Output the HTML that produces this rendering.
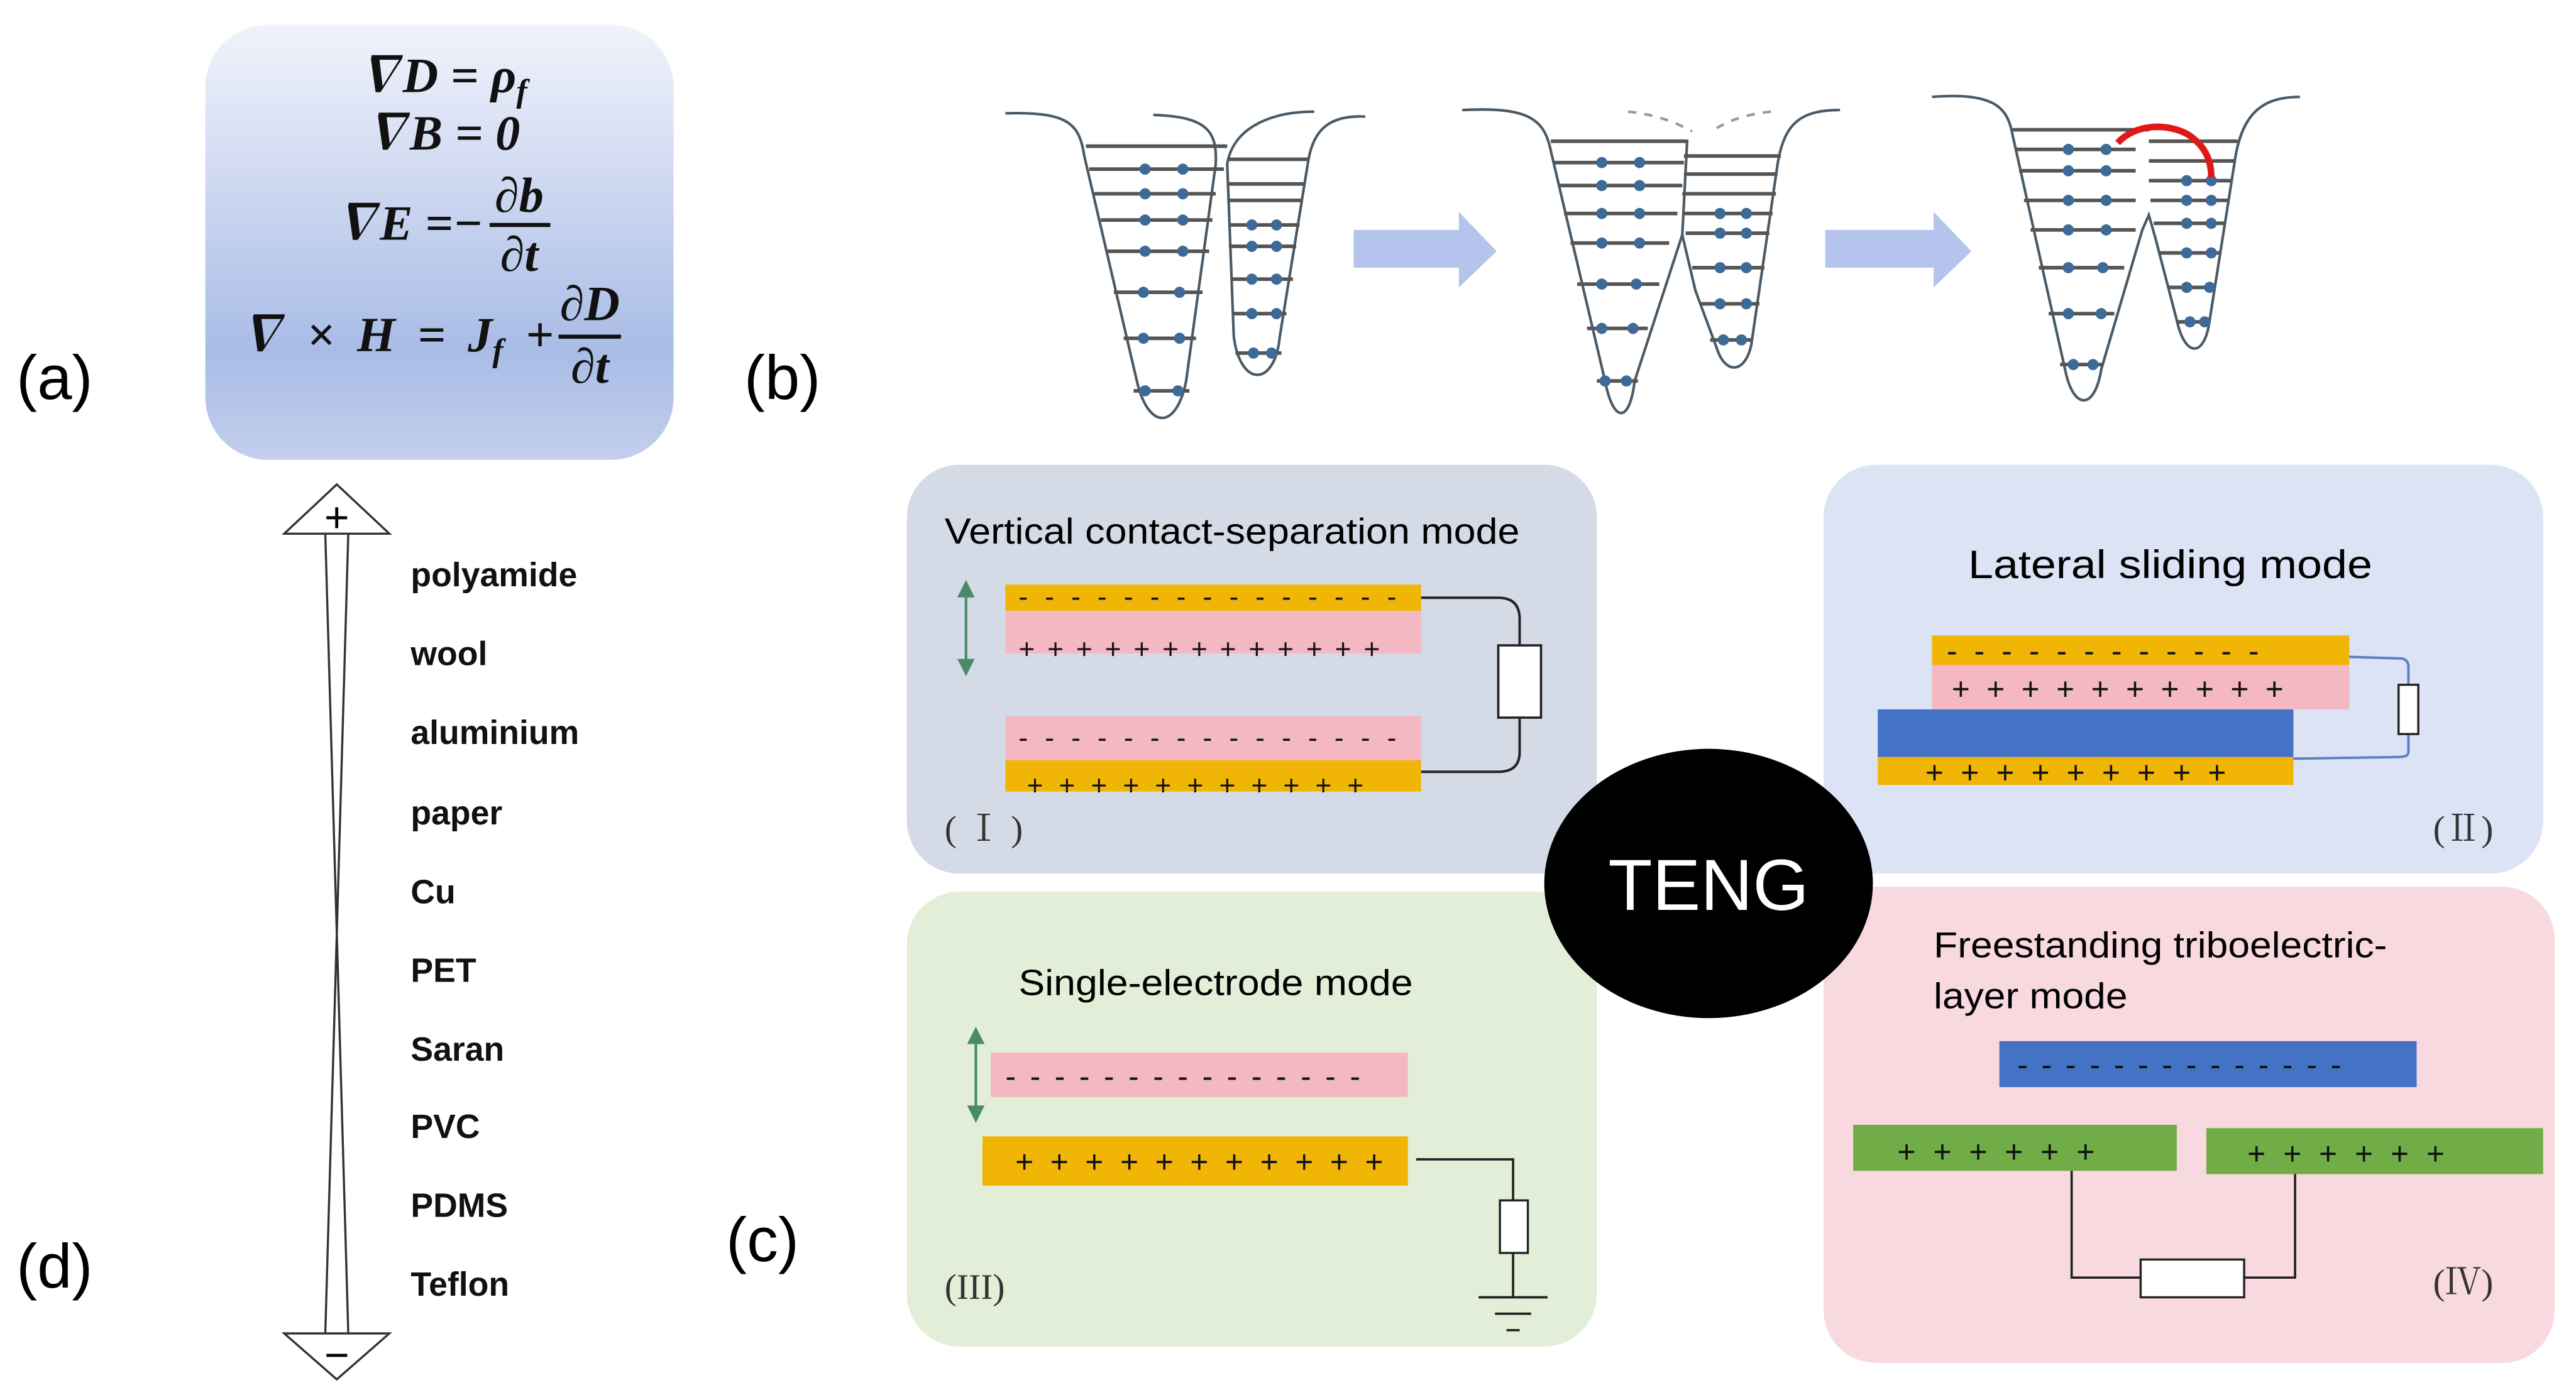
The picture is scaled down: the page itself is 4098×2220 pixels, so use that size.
<!DOCTYPE html>
<html><head><meta charset="utf-8"><style>
html,body{margin:0;padding:0;background:#fff;}
svg{display:block;}
.sans{font-family:"Liberation Sans",sans-serif;}
.ser{font-family:"Liberation Serif","Noto Serif CJK SC",serif;}
.lvl{stroke:#555;stroke-width:2.2;}
.w{fill:none;stroke:#4a5a66;stroke-width:1.6;}
</style></head><body>
<svg width="4098" height="2220" viewBox="0 0 1568 849.5" preserveAspectRatio="none" xmlns="http://www.w3.org/2000/svg">
<defs>
<linearGradient id="g1" x1="0" y1="0" x2="0" y2="1">
<stop offset="0" stop-color="#f1f3fb"/><stop offset="0.75" stop-color="#a9bce6"/><stop offset="1" stop-color="#c3cfec"/>
</linearGradient>
<g id="dot"><circle r="3.4" fill="#3d6a96"/></g>
</defs>
<rect width="1568" height="849.5" fill="#fff"/>

<text x="10" y="243" class="sans" font-size="38">(a)</text>
<text x="453" y="243" class="sans" font-size="38">(b)</text>
<text x="442" y="768" class="sans" font-size="38">(c)</text>
<text x="10" y="784" class="sans" font-size="38">(d)</text>

<rect x="125" y="15" width="285" height="265" rx="38" fill="url(#g1)"/>
<g class="ser" font-weight="bold" font-style="italic" font-size="30" fill="#111">
<text x="268" y="56" text-anchor="middle">∇D = ρ<tspan font-size="20" dy="6">f</tspan></text>
<text x="268" y="91" text-anchor="middle">∇B = 0</text>
<text x="294" y="146" text-anchor="end">∇E =−</text>
<text x="316" y="129" text-anchor="middle">∂b</text>
<line x1="298" y1="137" x2="335" y2="137" stroke="#111" stroke-width="2.5"/>
<text x="316" y="165" text-anchor="middle">∂t</text>
<text x="337" y="214" text-anchor="end" word-spacing="6">∇ × H = J<tspan font-size="20" dy="6">f</tspan><tspan dy="-6"> +</tspan></text>
<text x="359" y="195" text-anchor="middle">∂D</text>
<line x1="340" y1="205" x2="378" y2="205" stroke="#111" stroke-width="2.5"/>
<text x="359" y="233" text-anchor="middle">∂t</text>
</g>

<g fill="#fff" stroke="#333" stroke-width="1.3">
<polygon points="205,295 173,325 237,325"/>
<polygon points="205,840 173,812 237,812"/>
</g>
<line x1="198" y1="325" x2="212" y2="812" stroke="#333" stroke-width="1.3"/>
<line x1="212" y1="325" x2="198" y2="812" stroke="#333" stroke-width="1.3"/>
<text x="205" y="324" class="sans" font-size="26" text-anchor="middle">+</text>
<text x="205" y="834" class="sans" font-size="26" text-anchor="middle">−</text>
<g class="sans" font-weight="bold" font-size="20.5" fill="#111">
<text x="250" y="357">polyamide</text>
<text x="250" y="405">wool</text>
<text x="250" y="453">aluminium</text>
<text x="250" y="502">paper</text>
<text x="250" y="550">Cu</text>
<text x="250" y="598">PET</text>
<text x="250" y="646">Saran</text>
<text x="250" y="693">PVC</text>
<text x="250" y="741">PDMS</text>
<text x="250" y="789">Teflon</text>
</g>

<!-- diagram 1 -->
<path class="w" d="M612,69 C650,68 657,75 660,95 L692,232 C699,262 716,262 722,232 L740,100 C741,80 735,71 702,70"/>
<path class="w" d="M800,68 C770,68 750,80 747,100 L751,205 C755,236 776,236 779,205 L796,100 C799,78 810,70 831,71"/>
<g class="lvl">
<line x1="661" y1="89" x2="747" y2="89"/>
<line x1="663" y1="103" x2="745" y2="103"/><line x1="666" y1="118" x2="740" y2="118"/>
<line x1="670" y1="134" x2="738" y2="134"/><line x1="673" y1="153" x2="736" y2="153"/>
<line x1="678" y1="178" x2="732" y2="178"/><line x1="684" y1="206" x2="728" y2="206"/>
<line x1="690" y1="238" x2="724" y2="238"/>
<line x1="747" y1="97" x2="796" y2="97"/><line x1="747" y1="112" x2="794" y2="112"/>
<line x1="748" y1="122" x2="793" y2="122"/><line x1="748" y1="137" x2="791" y2="137"/>
<line x1="748" y1="150" x2="789" y2="150"/><line x1="749" y1="170" x2="787" y2="170"/>
<line x1="750" y1="191" x2="783" y2="191"/><line x1="752" y1="215" x2="780" y2="215"/>
</g>
<g>
<use href="#dot" x="697" y="103"/><use href="#dot" x="720" y="103"/>
<use href="#dot" x="697" y="118"/><use href="#dot" x="720" y="118"/>
<use href="#dot" x="697" y="134"/><use href="#dot" x="720" y="134"/>
<use href="#dot" x="697" y="153"/><use href="#dot" x="720" y="153"/>
<use href="#dot" x="696" y="178"/><use href="#dot" x="718" y="178"/>
<use href="#dot" x="696" y="206"/><use href="#dot" x="718" y="206"/>
<use href="#dot" x="697" y="238"/><use href="#dot" x="717" y="238"/>
<use href="#dot" x="762" y="137"/><use href="#dot" x="777" y="137"/>
<use href="#dot" x="762" y="150"/><use href="#dot" x="777" y="150"/>
<use href="#dot" x="762" y="170"/><use href="#dot" x="777" y="170"/>
<use href="#dot" x="762" y="191"/><use href="#dot" x="777" y="191"/>
<use href="#dot" x="763" y="215"/><use href="#dot" x="774" y="215"/>
</g>
<polygon points="824,140 888,140 888,129 911,153 888,175 888,163 824,163" fill="#b4c4ec"/>
<!-- diagram 2 -->
<path class="w" d="M890,67 C930,65 940,72 944,92 L977,232 C982,258 992,258 995,232 L1024,143 L1027,85"/>
<path class="w" d="M1024,143 L1032,177 L1045,212 C1050,228 1062,228 1066,210 L1082,100 C1086,75 1096,67 1120,67"/>
<path d="M991,68 Q1012,70 1030,80 M1078,68 Q1058,70 1045,78" fill="none" stroke="#999" stroke-width="1.6" stroke-dasharray="5,5"/>
<g class="lvl">
<line x1="944" y1="86" x2="1027" y2="86"/>
<line x1="946" y1="99" x2="1025" y2="99"/><line x1="949" y1="113" x2="1024" y2="113"/>
<line x1="952" y1="130" x2="1021" y2="130"/><line x1="956" y1="148" x2="1016" y2="148"/>
<line x1="960" y1="173" x2="1010" y2="173"/><line x1="966" y1="200" x2="1003" y2="200"/>
<line x1="972" y1="232" x2="997" y2="232"/>
<line x1="1025" y1="95" x2="1084" y2="95"/><line x1="1025" y1="106" x2="1082" y2="106"/>
<line x1="1024" y1="118" x2="1081" y2="118"/><line x1="1024" y1="130" x2="1079" y2="130"/>
<line x1="1026" y1="142" x2="1077" y2="142"/><line x1="1030" y1="163" x2="1074" y2="163"/>
<line x1="1035" y1="185" x2="1071" y2="185"/><line x1="1041" y1="207" x2="1067" y2="207"/>
</g>
<g>
<use href="#dot" x="975" y="99"/><use href="#dot" x="998" y="99"/>
<use href="#dot" x="975" y="113"/><use href="#dot" x="998" y="113"/>
<use href="#dot" x="975" y="130"/><use href="#dot" x="998" y="130"/>
<use href="#dot" x="975" y="148"/><use href="#dot" x="998" y="148"/>
<use href="#dot" x="975" y="173"/><use href="#dot" x="996" y="173"/>
<use href="#dot" x="975" y="200"/><use href="#dot" x="994" y="200"/>
<use href="#dot" x="977" y="232"/><use href="#dot" x="990" y="232"/>
<use href="#dot" x="1047" y="130"/><use href="#dot" x="1063" y="130"/>
<use href="#dot" x="1047" y="142"/><use href="#dot" x="1063" y="142"/>
<use href="#dot" x="1047" y="163"/><use href="#dot" x="1063" y="163"/>
<use href="#dot" x="1047" y="185"/><use href="#dot" x="1063" y="185"/>
<use href="#dot" x="1049" y="207"/><use href="#dot" x="1060" y="207"/>
</g>
<polygon points="1111,140 1177,140 1177,129 1200,153 1177,175 1177,163 1111,163" fill="#b4c4ec"/>
<!-- diagram 3 -->
<path class="w" d="M1176,59 C1215,56 1222,66 1225,82 L1257,225 C1262,250 1275,250 1279,225 L1304,140 L1308,131 L1312,145 L1325,195 C1330,218 1342,218 1345,195 L1360,100 C1364,70 1376,59 1400,59"/>
<g class="lvl">
<line x1="1225" y1="79" x2="1308" y2="79"/>
<line x1="1227" y1="91" x2="1300" y2="91"/><line x1="1229" y1="104" x2="1300" y2="104"/>
<line x1="1232" y1="122" x2="1300" y2="122"/><line x1="1236" y1="140" x2="1300" y2="140"/>
<line x1="1241" y1="163" x2="1293" y2="163"/><line x1="1247" y1="191" x2="1287" y2="191"/>
<line x1="1254" y1="222" x2="1280" y2="222"/>
<line x1="1308" y1="86" x2="1362" y2="86"/><line x1="1308" y1="98" x2="1360" y2="98"/>
<line x1="1308" y1="110" x2="1358" y2="110"/><line x1="1309" y1="122" x2="1356" y2="122"/>
<line x1="1311" y1="136" x2="1354" y2="136"/><line x1="1315" y1="154" x2="1351" y2="154"/>
<line x1="1320" y1="175" x2="1348" y2="175"/><line x1="1325" y1="196" x2="1345" y2="196"/>
</g>
<g>
<use href="#dot" x="1259" y="91"/><use href="#dot" x="1282" y="91"/>
<use href="#dot" x="1259" y="104"/><use href="#dot" x="1282" y="104"/>
<use href="#dot" x="1259" y="122"/><use href="#dot" x="1282" y="122"/>
<use href="#dot" x="1259" y="140"/><use href="#dot" x="1282" y="140"/>
<use href="#dot" x="1259" y="163"/><use href="#dot" x="1280" y="163"/>
<use href="#dot" x="1259" y="191"/><use href="#dot" x="1279" y="191"/>
<use href="#dot" x="1262" y="222"/><use href="#dot" x="1274" y="222"/>
<use href="#dot" x="1331" y="110"/><use href="#dot" x="1346" y="110"/>
<use href="#dot" x="1331" y="122"/><use href="#dot" x="1346" y="122"/>
<use href="#dot" x="1331" y="136"/><use href="#dot" x="1346" y="136"/>
<use href="#dot" x="1331" y="154"/><use href="#dot" x="1346" y="154"/>
<use href="#dot" x="1331" y="175"/><use href="#dot" x="1345" y="175"/>
<use href="#dot" x="1333" y="196"/><use href="#dot" x="1342" y="196"/>
</g>
<path d="M1289,87 C1300,75 1320,75 1332,82 C1344,90 1346,100 1346,108" fill="none" stroke="#e01818" stroke-width="4"/>

<!-- panels -->
<rect x="552" y="283" width="420" height="249" rx="32" fill="#d5dbe6"/>
<rect x="1110" y="283" width="438" height="249" rx="32" fill="#dbe3f4"/>
<rect x="552" y="543" width="420" height="277" rx="32" fill="#e2eed8"/>
<rect x="1110" y="540" width="445" height="290" rx="32" fill="#f7d9df"/>

<text x="575" y="331" class="sans" font-size="22" textLength="350" lengthAdjust="spacingAndGlyphs">Vertical contact-separation mode</text>
<rect x="612" y="356" width="253" height="16" fill="#f1b505"/>
<rect x="612" y="372" width="253" height="26" fill="#f4b8c2"/>
<rect x="612" y="436" width="253" height="27" fill="#f4b8c2"/>
<rect x="612" y="463" width="253" height="19" fill="#f1b505"/>
<g class="sans" font-size="17" fill="#111">
<text x="620" y="369" textLength="230" lengthAdjust="spacing">- - - - - - - - - - - - - - -</text>
<text x="620" y="401" textLength="220" lengthAdjust="spacing">+++++++++++++</text>
<text x="620" y="455" textLength="230" lengthAdjust="spacing">- - - - - - - - - - - - - - -</text>
<text x="625" y="484" textLength="205" lengthAdjust="spacing">+++++++++++</text>
</g>
<path d="M865,364 L912,364 Q925,364 925,377 L925,393 M925,437 L925,458 Q925,470 912,470 L865,470" fill="none" stroke="#222" stroke-width="1.5"/>
<rect x="912" y="393" width="26" height="44" fill="#fff" stroke="#222" stroke-width="1.4"/>
<g stroke="#4a8a6a" stroke-width="1.6" fill="#4a8a6a">
<line x1="588" y1="360" x2="588" y2="405"/>
<polygon points="588,355 584,363 592,363"/><polygon points="588,410 584,402 592,402"/>
</g>
<text x="575" y="512" class="ser" font-size="22" fill="#333">( Ⅰ )</text>

<text x="1198" y="352" class="sans" font-size="24" textLength="246" lengthAdjust="spacingAndGlyphs">Lateral sliding  mode</text>
<rect x="1176" y="387" width="254" height="18" fill="#f1b505"/>
<rect x="1176" y="405" width="254" height="27" fill="#f4b8c2"/>
<rect x="1143" y="432" width="253" height="29" fill="#4472c4"/>
<rect x="1143" y="461" width="253" height="17" fill="#f1b505"/>
<g class="sans" font-size="19" fill="#111">
<text x="1185" y="403" textLength="190" lengthAdjust="spacing">- - - - - - - - - - - -</text>
<text x="1188" y="426" textLength="202" lengthAdjust="spacing">++++++++++</text>
<text x="1172" y="477" textLength="183" lengthAdjust="spacing">+++++++++</text>
</g>
<path d="M1430,400 L1462,401 Q1466,402 1466,406 L1466,417 M1466,447 L1466,458 Q1466,461 1460,461 L1396,462" fill="none" stroke="#5b7fc7" stroke-width="1.5"/>
<rect x="1460" y="417" width="12" height="30" fill="#fff" stroke="#222" stroke-width="1.3"/>
<text x="1481" y="512" class="ser" font-size="22" fill="#333">(Ⅱ)</text>

<text x="620" y="606" class="sans" font-size="22" textLength="240" lengthAdjust="spacingAndGlyphs">Single-electrode mode</text>
<rect x="603" y="641" width="254" height="27" fill="#f4b8c2"/>
<rect x="598" y="692" width="259" height="30" fill="#f1b505"/>
<g class="sans" font-size="19" fill="#111">
<text x="612" y="662" textLength="216" lengthAdjust="spacing">- - - - - - - - - - - - - - -</text>
<text x="618" y="714" textLength="224" lengthAdjust="spacing">+++++++++++</text>
</g>
<path d="M862,706 L921,706 L921,731 M921,763 L921,790 M900,790 L942,790 M910,800 L932,800 M917,810 L925,810" fill="none" stroke="#222" stroke-width="1.4"/>
<rect x="913" y="731" width="17" height="32" fill="#fff" stroke="#222" stroke-width="1.3"/>
<g stroke="#4a8a6a" stroke-width="1.6" fill="#4a8a6a">
<line x1="594" y1="632" x2="594" y2="677"/>
<polygon points="594,627 590,635 598,635"/><polygon points="594,682 590,674 598,674"/>
</g>
<text x="575" y="791" class="ser" font-size="22" fill="#333">(III)</text>

<text x="1177" y="583" class="sans" font-size="22" textLength="276" lengthAdjust="spacingAndGlyphs">Freestanding triboelectric-</text>
<text x="1177" y="614" class="sans" font-size="22" textLength="118" lengthAdjust="spacingAndGlyphs">layer mode</text>
<rect x="1217" y="634" width="254" height="28" fill="#4472c4"/>
<rect x="1128" y="685" width="197" height="28" fill="#70ad47"/>
<rect x="1343" y="687" width="205" height="28" fill="#70ad47"/>
<g class="sans" font-size="19" fill="#111">
<text x="1228" y="655" textLength="197" lengthAdjust="spacing">- - - - - - - - - - - - - -</text>
<text x="1155" y="708" textLength="120" lengthAdjust="spacing">++++++</text>
<text x="1368" y="709" textLength="120" lengthAdjust="spacing">++++++</text>
</g>
<path d="M1261,713 L1261,778 L1303,778 M1366,778 L1397,778 L1397,715" fill="none" stroke="#222" stroke-width="1.4"/>
<rect x="1303" y="767" width="63" height="23" fill="#fff" stroke="#222" stroke-width="1.3"/>
<text x="1481" y="788" class="ser" font-size="22" fill="#333">(Ⅳ)</text>

<ellipse cx="1040" cy="538" rx="100" ry="82" fill="#000"/>
<text x="1040" y="554" class="sans" font-size="44" fill="#fff" text-anchor="middle">TENG</text>
</svg>
</body></html>
